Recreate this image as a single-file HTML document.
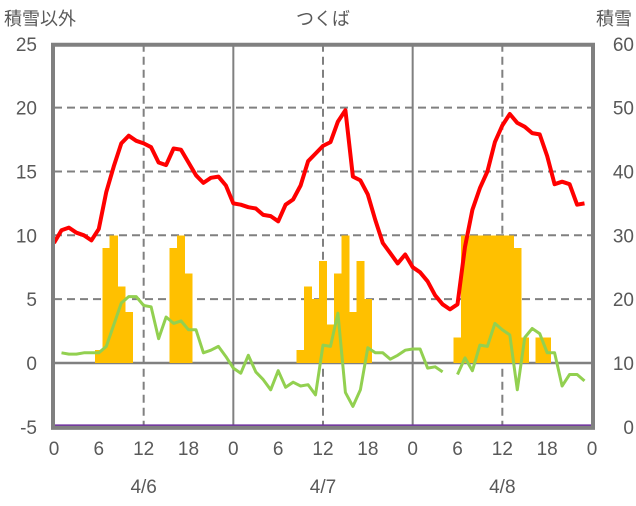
<!DOCTYPE html>
<html><head><meta charset="utf-8"><style>
body{margin:0;background:#fff;}
svg text{font-family:"Liberation Sans","Noto Sans CJK JP",sans-serif;fill:#595959;}
</style></head><body>
<svg id="chart" width="636" height="501" viewBox="0 0 636 501" xmlns="http://www.w3.org/2000/svg">
<text x="4" y="25" font-size="18">積雪以外</text>
<text x="323" y="25" font-size="18" text-anchor="middle">つくば</text>
<text x="632" y="25" font-size="18" text-anchor="end">積雪</text>
<g id="grid"></g><g id="bars" shape-rendering="crispEdges"></g><g id="lines"></g><g id="frame"></g><g id="labels"></g>
</svg>
<script>
const leftTicks=[-5,0,5,10,15,20,25];
const rightTicks=[0,10,20,30,40,50,60];
const hourTicks=[0,6,12,18,0,6,12,18,0,6,12,18,0];
const dateLabels=["4/6","4/7","4/8"];
const snowHours=[6,7,8,9,10,16,17,18,33,34,35,36,37,38,39,40,41,42,54,55,56,57,58,59,60,61,62,63,65,66];
const snowValues=[1,9,10,6,4,9,10,7,1,6,5,8,3,7,10,4,8,5,2,10,10,10,10,10,10,10,9,2,2,2];
const tempRed=[9.4,10.4,10.6,10.2,10.0,9.6,10.5,13.4,15.4,17.2,17.8,17.4,17.2,16.9,15.7,15.5,16.8,16.7,15.7,14.7,14.1,14.5,14.6,13.9,12.5,12.4,12.2,12.1,11.6,11.5,11.1,12.4,12.8,13.9,15.8,16.4,17.0,17.3,18.9,19.8,14.6,14.3,13.2,11.2,9.4,8.6,7.8,8.5,7.5,7.1,6.4,5.3,4.6,4.2,4.6,9.1,12.0,13.7,15.0,17.3,18.6,19.5,18.8,18.5,18.0,17.9,16.2,14.0,14.2,14.0,12.4,12.5];
const tempGreen=[null,0.8,0.7,0.7,0.8,0.8,0.8,1.3,3.0,4.7,5.2,5.2,4.5,4.4,1.9,3.6,3.1,3.3,2.6,2.6,0.8,1.0,1.3,0.5,-0.4,-0.8,0.6,-0.7,-1.3,-2.1,-0.6,-1.9,-1.5,-1.8,-1.7,-2.5,1.4,1.3,3.9,-2.3,-3.4,-2.1,1.2,0.8,0.8,0.3,0.6,1.0,1.1,1.1,-0.4,-0.3,-0.7,null,-0.9,0.4,-0.6,1.4,1.3,3.1,2.6,2.2,-2.1,2.0,2.7,2.3,0.8,0.8,-1.8,-0.9,-0.9,-1.4];
const purpleLevel=[-5,-5];

const NS="http://www.w3.org/2000/svg";
const X0=54,X1=592,Y0=363,PU=12.77;
const xs=h=>X0+h*(X1-X0)/72;
const ys=v=>Y0-v*PU;
function mk(tag,attrs,parent){const e=document.createElementNS(NS,tag);for(const k in attrs)e.setAttribute(k,attrs[k]);document.getElementById(parent).appendChild(e);return e;}
[5,10,15,20].forEach(v=>{const l=mk('line',{x1:X0,x2:X1,y1:ys(v),y2:ys(v),stroke:'#808080','stroke-width':2,'stroke-dasharray':'8,5'},'grid');

});
[12,36,60].forEach(h=>{const l=mk('line',{x1:xs(h),x2:xs(h),y1:ys(25),y2:ys(-5),stroke:'#808080','stroke-width':2,'stroke-dasharray':'8,5'},'grid');

});
[24,48].forEach(h=>{const l=mk('line',{x1:xs(h),x2:xs(h),y1:ys(25),y2:ys(-5),stroke:'#808080','stroke-width':2},'grid');

});
const bw=(X1-X0)/72;
snowHours.forEach((h,i)=>{const v=snowValues[i];const r=mk('rect',{x:xs(h)-bw/2-0.3,y:ys(v),width:bw+0.6,height:ys(0)-ys(v),fill:'#FFC000'},'bars');

});
const z=mk('line',{x1:X0,x2:X1,y1:ys(0),y2:ys(0),stroke:'#808080','stroke-width':2.5},'grid');


function path(arr,color,w,name){let d='',pen=false;arr.forEach((v,h)=>{if(v===null){pen=false;return;}d+=(pen?'L':'M')+xs(h).toFixed(1)+','+ys(v).toFixed(1);pen=true;});
const p=mk('path',{d:d,fill:'none',stroke:color,'stroke-width':w,'stroke-linejoin':'round'},'lines');

}
path(tempGreen,'#92D050',3,'green-line');
path(tempRed,'#FF0000',4,'red-line');
const pl=mk('line',{x1:X0,x2:X1,y1:ys(purpleLevel[0])-1,y2:ys(purpleLevel[1])-1,stroke:'#7030A0','stroke-width':3},'lines');


const fr=mk('rect',{x:X0-1,y:ys(25)+1,width:X1-X0+2,height:ys(-5)-ys(25),fill:'none',stroke:'#808080','stroke-width':4},'frame');


leftTicks.forEach(v=>{const t=mk('text',{x:37,y:ys(v)+7,'font-size':19,'text-anchor':'end'},'labels');t.textContent=v;

});
rightTicks.forEach(v=>{const t=mk('text',{x:634,y:ys(v/2-5)+7,'font-size':19,'text-anchor':'end'},'labels');t.textContent=v;

});
hourTicks.forEach((v,i)=>{const t=mk('text',{x:xs(i*6),y:455,'font-size':19,'text-anchor':'middle'},'labels');t.textContent=v;

});
dateLabels.forEach((v,i)=>{const t=mk('text',{x:xs(12+i*24),y:493,'font-size':19,'text-anchor':'middle'},'labels');t.textContent=v;

});
</script>
</body></html>
